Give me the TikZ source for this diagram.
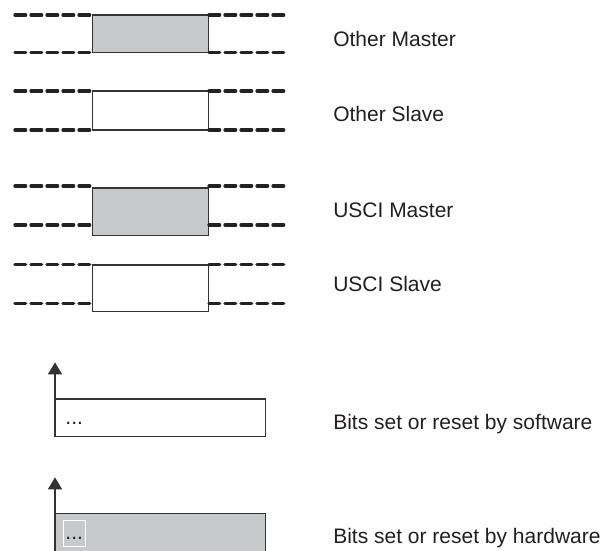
\documentclass[tikz,border=0pt]{standalone}
\usepackage{fontspec}
\setmainfont{Liberation Sans}
\usetikzlibrary{arrows.meta}
\definecolor{boxgray}{HTML}{C8C9CB}
\definecolor{ink}{HTML}{333333}
\definecolor{sigink}{HTML}{222222}
\definecolor{txt}{HTML}{231F20}
\begin{document}
\begin{tikzpicture}[x=0.75pt,y=-0.75pt,
  sig/.style={line width=2.5pt, line cap=round, dash pattern=on 8pt off 4pt, draw=sigink},
  boxline/.style={line width=1pt, draw=ink},
  gbox/.style={boxline, fill=boxgray},
  wbox/.style={boxline, fill=white},
  lbl/.style={anchor=base west, inner sep=0pt, text=txt, font=\fontsize{15.75}{18}\selectfont},
  dots/.style={anchor=base west, inner sep=0pt, text=txt, font=\fontsize{15.75}{18}\selectfont},
  up/.style={boxline, -{Triangle[width=10.5pt,length=9pt]}}]
\clip (0,0) rectangle (607,550);
\fill[white] (0,0) rectangle (607,550);

% Other Master
\draw[gbox] (92.7,15) rectangle (208.3,52.7);
\coordinate (omTL) at (15,15);   \coordinate (omTLb) at (92.7,15);
\coordinate (omBL) at (15,52.7); \coordinate (omBLb) at (92.7,52.7);
\coordinate (omTR) at (209,15);  \coordinate (omTRe) at (284,15);
\coordinate (omBR) at (209,52.7);\coordinate (omBRe) at (284,52.7);
\draw[sig] (omTL) -- (omTLb);
\draw[sig] (omBL) -- (omBLb);
\draw[sig] (omTR) -- (omTRe);
\draw[sig] (omBR) -- (omBRe);
\node[lbl] (tom) at (333,46) {Other Master};

% Other Slave
\draw[wbox] (92.7,91) rectangle (208.3,130);
\coordinate (osTL) at (15,91);   \coordinate (osTLb) at (92.7,91);
\coordinate (osBL) at (15,130);  \coordinate (osBLb) at (92.7,130);
\coordinate (osTR) at (209,91);  \coordinate (osTRe) at (284,91);
\coordinate (osBR) at (209,130); \coordinate (osBRe) at (284,130);
\draw[sig] (osTL) -- (osTLb);
\draw[sig] (osBL) -- (osBLb);
\draw[sig] (osTR) -- (osTRe);
\draw[sig] (osBR) -- (osBRe);
\node[lbl] (tos) at (333,121.7) {Other Slave};

% USCI Master
\draw[gbox] (92.7,188) rectangle (208.3,235.7);
\coordinate (umTL) at (15,186);  \coordinate (umTLb) at (92.7,186);
\coordinate (umBL) at (15,225);  \coordinate (umBLb) at (92.7,225);
\coordinate (umTR) at (209,186); \coordinate (umTRe) at (284,186);
\coordinate (umBR) at (209,225); \coordinate (umBRe) at (284,225);
\draw[sig] (umTL) -- (umTLb);
\draw[sig] (umBL) -- (umBLb);
\draw[sig] (umTR) -- (umTRe);
\draw[sig] (umBR) -- (umBRe);
\node[lbl] (tum) at (333,217.3) {USCI Master};

% USCI Slave
\draw[wbox] (92.7,265) rectangle (208.3,311.7);
\coordinate (usTL) at (15,264.3);  \coordinate (usTLb) at (92.7,264.3);
\coordinate (usBL) at (15,303.3);  \coordinate (usBLb) at (92.7,303.3);
\coordinate (usTR) at (209,264.3); \coordinate (usTRe) at (284,264.3);
\coordinate (usBR) at (209,303.3); \coordinate (usBRe) at (284,303.3);
\draw[sig] (usTL) -- (usTLb);
\draw[sig] (usBL) -- (usBLb);
\draw[sig] (usTR) -- (usTRe);
\draw[sig] (usBR) -- (usBRe);
\node[lbl] (tus) at (333,291.7) {USCI Slave};

% Software bits
\draw[wbox] (55,399) rectangle (265.7,436.7);
\coordinate (swc) at (55,399);
\coordinate (swtip) at (55,362.3);
\draw[up] (swc) -- (swtip);
\node[dots] (swd) at (65.2,424) {...};
\node[lbl] (tsw) at (333,429.3) {Bits set or reset by software};

% Hardware bits
\draw[gbox] (55,513.3) rectangle (265.7,553);
\draw[white, line width=0.6pt] (63.3,520) rectangle (85.7,546);
\coordinate (hwc) at (55,513.3);
\coordinate (hwtip) at (55,477.3);
\draw[up] (hwc) -- (hwtip);
\node[dots] (hwd) at (65.2,539.3) {...};
\node[lbl] (thw) at (333,543.3) {Bits set or reset by hardware};
\end{tikzpicture}
\end{document}
